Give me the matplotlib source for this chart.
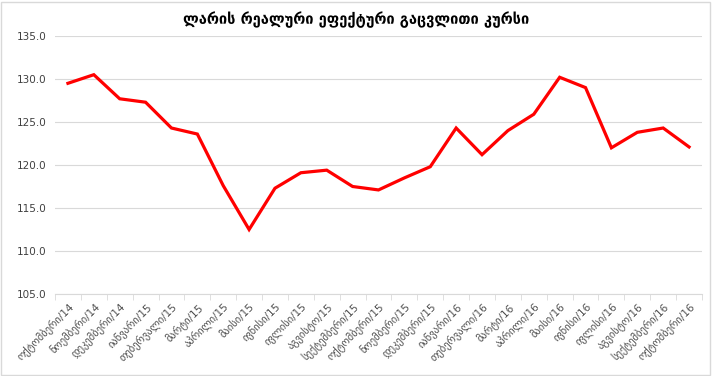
import matplotlib.pyplot as plt
from matplotlib.patches import Rectangle

title = 'ლარის რეალური ეფექტური გაცვლითი კურსი'

months = ['ოქტომბერი/14', 'ნოემბერი/14', 'დეკემბერი/14', 'იანვარი/15', 'თებერვალი/15',
          'მარტი/15', 'აპრილი/15', 'მაისი/15', 'ივნისი/15', 'ივლისი/15', 'აგვისტო/15',
          'სექტემბერი/15', 'ოქტომბერი/15', 'ნოემბერი/15', 'დეკემბერი/15', 'იანვარი/16',
          'თებერვალი/16', 'მარტი/16', 'აპრილი/16', 'მაისი/16', 'ივნისი/16', 'ივლისი/16',
          'აგვისტო/16', 'სექტემბერი/16', 'ოქტომბერი/16']

reer = [129.5, 130.5, 127.7, 127.3, 124.3, 123.6, 117.6, 112.5, 117.3, 119.1, 119.4,
        117.5, 117.1, 118.5, 119.8, 124.3, 121.2, 124.0, 125.9, 130.2, 129.0, 122.0,
        123.8, 124.3, 122.1]

yticks = [105, 110, 115, 120, 125, 130, 135]

plt.rcParams['font.family'] = ['DejaVu Sans']

fig = plt.figure(figsize=(7.12, 3.76), dpi=100)
ax = fig.add_axes([55 / 712, 1 - 294 / 376, 647 / 712, 258 / 376])

x = list(range(len(months)))
ax.plot(x, reer, color='#ff0000', linewidth=2.3, solid_joinstyle='miter')

ax.set_xlim(-0.5, len(months) - 0.5)
ax.set_ylim(105, 135)
ax.set_yticks(yticks)
ax.set_yticklabels([f'{v:.1f}' for v in yticks], fontsize=7.5, color='#404040')
ax.tick_params(axis='y', length=0, pad=6)

ax.set_xticks(x)
ax.set_xticklabels(months, rotation=45, ha='right', rotation_mode='anchor',
                   fontsize=7.6, color='#505050')
ax.set_xticks([i - 0.5 for i in range(len(months) + 1)], minor=True)
ax.tick_params(axis='x', which='major', length=0, pad=5)
ax.tick_params(axis='x', which='minor', length=4, color='#d9d9d9')

ax.grid(axis='y', color='#d9d9d9', linewidth=0.8)
ax.set_axisbelow(True)
for side in ['top', 'right', 'left']:
    ax.spines[side].set_visible(False)
ax.spines['bottom'].set_color('#d9d9d9')

fig.text(0.5, 1 - 20 / 376, title, ha='center', va='center', fontsize=10.5,
         fontweight='bold', color='black')

fig.patches.append(Rectangle((0.002, 0.003), 0.995, 0.993, transform=fig.transFigure,
                             fill=False, edgecolor='#d9d9d9', linewidth=1))

fig.savefig('out.png', dpi=100)
